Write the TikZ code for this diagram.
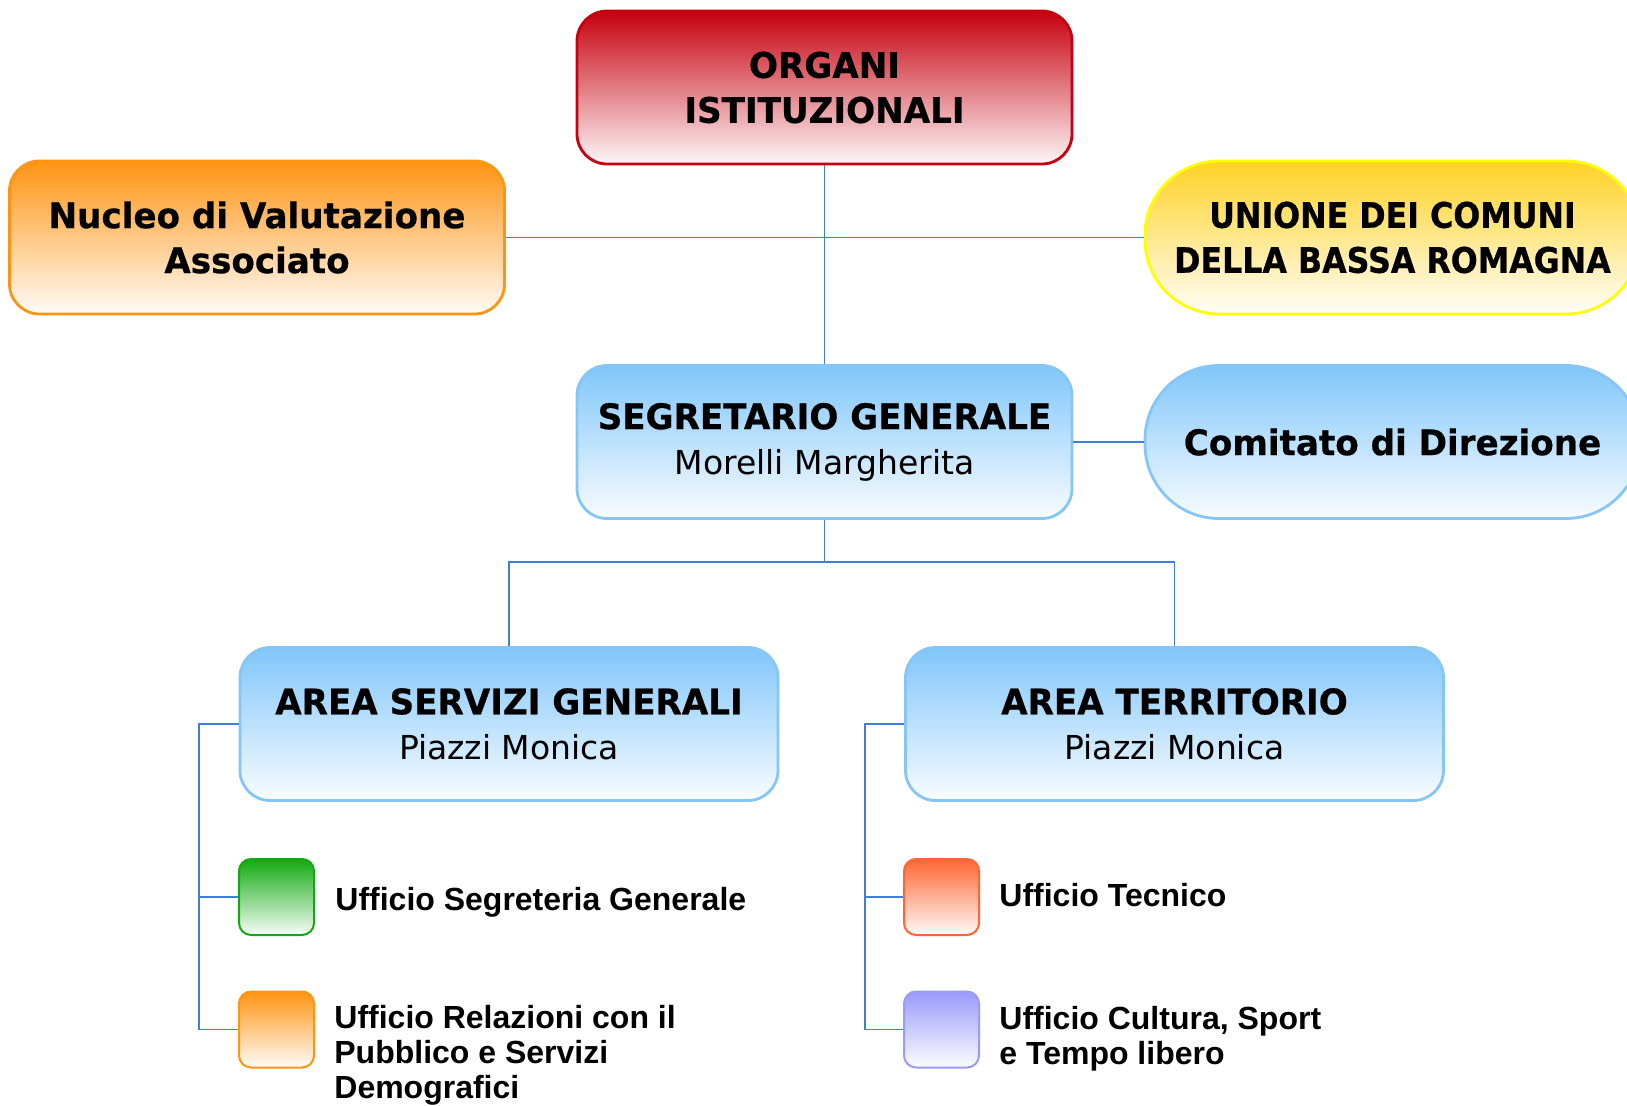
\documentclass[tikz,border=0pt]{standalone}
\usepackage{fontspec}
\setmainfont{DejaVu Sans}
\newfontfamily\boxbold[FakeStretch=0.97,FakeBold=0.6]{DejaVu Sans Bold}
\newfontfamily\boxboldn[FakeStretch=0.90,FakeBold=0.6]{DejaVu Sans Bold}
\newfontfamily\arialfont{Liberation Sans}
\definecolor{lineblue}{HTML}{3F7FDA}
\definecolor{orgred}{HTML}{C6000E}
\definecolor{nucorange}{HTML}{FF9412}
\definecolor{unigold}{HTML}{FFD224}
\definecolor{uniedge}{HTML}{FFFF00}
\definecolor{boxblue}{HTML}{80C6FA}
\definecolor{boxedge}{HTML}{86C6F6}
\definecolor{offgreen}{HTML}{12AA12}
\definecolor{offred}{HTML}{FF6633}
\definecolor{offviolet}{HTML}{9A9AFA}
\begin{document}
\begin{tikzpicture}[x=0.5pt,y=-0.5pt,
  bigbox/.style={draw, line width=1.4pt, rounded corners=15pt,
    minimum width=247.5pt, minimum height=76.5pt, inner sep=0pt, align=center,
    font=\fontsize{17.6}{22.5}\selectfont\boxbold},
  areabox/.style={bigbox, minimum width=269pt},
  pill/.style={bigbox, rounded corners=37pt},
  offbox/.style={draw, line width=1pt, rounded corners=6pt,
    minimum width=37.5pt, minimum height=38pt, inner sep=0pt},
  offtext/.style={anchor=base west, align=left, inner sep=0pt,
    font=\arialfont\fontsize{16}{17.5}\selectfont\bfseries},
  conn/.style={draw=lineblue, line width=0.7pt}
]
\useasboundingbox (0,0) rectangle (1627,1106);

% main boxes
\node[bigbox, draw=orgred, top color=orgred, bottom color=orgred!3] (org) at (824.5,87.5)
  {ORGANI\\ISTITUZIONALI};
\node[bigbox, draw=nucorange, top color=nucorange, bottom color=nucorange!3] (nuc) at (257,237.5)
  {Nucleo di Valutazione\\Associato};
\node[pill, draw=uniedge, top color=unigold, bottom color=unigold!3,
  font=\fontsize{17.6}{22.5}\selectfont\boxboldn] (uni) at (1392.5,237.5)
  {UNIONE DEI COMUNI\\DELLA BASSA ROMAGNA};
\node[bigbox, draw=boxedge, top color=boxblue, bottom color=boxblue!5] (seg) at (824.5,442)
  {SEGRETARIO GENERALE\\{\normalfont\fontsize{16.5}{22.5}\selectfont Morelli Margherita}};
\node[pill, draw=boxedge, top color=boxblue, bottom color=boxblue!5] (com) at (1392.5,442)
  {Comitato di Direzione};
\node[areabox, draw=boxedge, top color=boxblue, bottom color=boxblue!5] (asg) at (509,724)
  {AREA SERVIZI GENERALI\\{\normalfont\fontsize{16.5}{22.5}\selectfont Piazzi Monica}};
\node[areabox, draw=boxedge, top color=boxblue, bottom color=boxblue!5] (ater) at (1174.5,724)
  {AREA TERRITORIO\\{\normalfont\fontsize{16.5}{22.5}\selectfont Piazzi Monica}};

% offices
\node[offbox, draw=offgreen, top color=offgreen, bottom color=offgreen!3] (sb1) at (276.5,897) {};
\node[offbox, draw=nucorange, top color=nucorange, bottom color=nucorange!3] (sb2) at (276.5,1029.5) {};
\node[offbox, draw=offred, top color=offred, bottom color=offred!3] (sb3) at (941.5,897) {};
\node[offbox, draw=offviolet, top color=offviolet, bottom color=offviolet!3] (sb4) at (941.5,1029.5) {};

\node[offtext] (t1) at (335,910) {Ufficio Segreteria Generale};
\node[offtext] (t2) at (334,1098) {Ufficio Relazioni con il\\Pubblico e Servizi\\Demografici};
\node[offtext] (t3) at (999,906) {Ufficio Tecnico};
\node[offtext] (t4) at (999,1064) {Ufficio Cultura, Sport\\e Tempo libero};

% connectors
\draw[conn] (org.south) -- (seg.north);
\draw[conn] (nuc.east) -- (uni.west);
\draw[conn] (seg.east) -- (com.west);
\coordinate (j) at (824.5,562);
\draw[conn] (seg.south) -- (j);
\draw[conn] (j) -| (asg.north);
\draw[conn] (j) -| (ater.north);
\coordinate (bl) at (199,724);
\coordinate (br) at (865,724);
\draw[conn] (asg.west) -- (bl) |- (sb2.west);
\draw[conn] (bl |- sb1.west) -- (sb1.west);
\draw[conn] (ater.west) -- (br) |- (sb4.west);
\draw[conn] (br |- sb3.west) -- (sb3.west);
\end{tikzpicture}
\end{document}
